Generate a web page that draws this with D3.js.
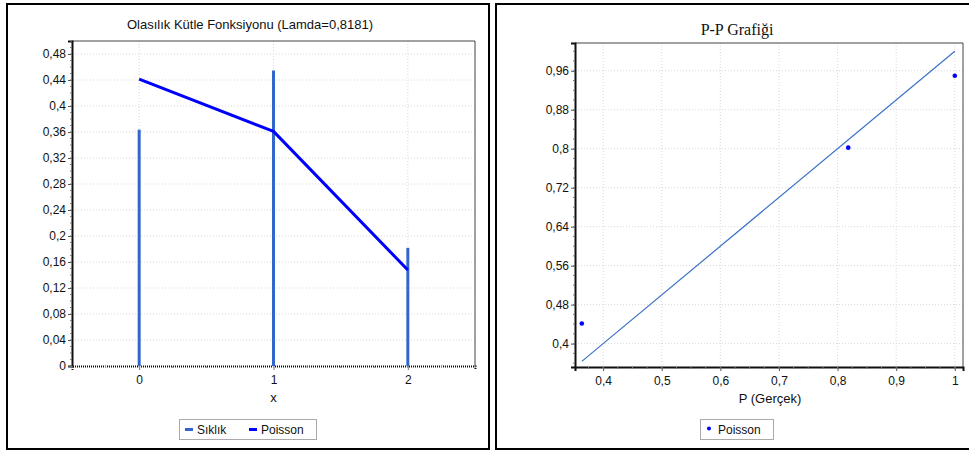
<!DOCTYPE html>
<html>
<head>
<meta charset="utf-8">
<script src="https://cdn.jsdelivr.net/npm/d3@7"></script>
<style>
  html, body { margin: 0; padding: 0; background: #fff; }
  svg { display: block; }
  text { font-family: "Liberation Sans", Arial, sans-serif; fill: #111; }
</style>
</head>
<body>
<svg id="chart" width="969" height="452"></svg>
<script>
// ---------- Data ----------
const xCategories = [0, 1, 2];
const siklikValues = [0.3636, 0.4545, 0.1818];
const poissonValues = [0.4412, 0.3610, 0.1477];
const leftYTicks = [0, 0.04, 0.08, 0.12, 0.16, 0.2, 0.24, 0.28, 0.32, 0.36, 0.4, 0.44, 0.48];
const leftTitle = "Olasılık Kütle Fonksiyonu (Lamda=0,8181)";

const ppActual = [0.3636, 0.8182, 1.0];
const ppPoisson = [0.4412, 0.8022, 0.9499];
const ppXTicks = [0.4, 0.5, 0.6, 0.7, 0.8, 0.9, 1];
const ppYTicks = [0.4, 0.48, 0.56, 0.64, 0.72, 0.8, 0.88, 0.96];
const rightTitle = "P-P Grafiği";

const fmt = d => String(+d.toFixed(3)).replace('.', ',');

const svg = d3.select("#chart");

// ---------- Panel frames ----------
svg.append("rect").attr("x", 7).attr("y", 4).attr("width", 482).attr("height", 445)
  .attr("fill", "none").attr("stroke", "#000").attr("stroke-width", 2);
svg.append("rect").attr("x", 496).attr("y", 4).attr("width", 480).attr("height", 445)
  .attr("fill", "none").attr("stroke", "#000").attr("stroke-width", 2);

function gridAndTicks(g, x, y, xMajor, yMajor, xMinor, yMinor, L, R, T, B, fmtX, fmtY) {
  // grid
  g.selectAll(".gx").data(xMajor).join("line")
    .attr("x1", d => x(d)).attr("x2", d => x(d)).attr("y1", T).attr("y2", B)
    .attr("stroke", "#d8d8d8").attr("stroke-dasharray", "1,2");
  g.selectAll(".gy").data(yMajor).join("line")
    .attr("x1", L).attr("x2", R).attr("y1", d => y(d)).attr("y2", d => y(d))
    .attr("stroke", "#d8d8d8").attr("stroke-dasharray", "1,2");
}

// ---------- Left chart ----------
{
  const L = 72, R = 475, T = 41, B = 366;
  const x = d3.scaleLinear().domain([-0.5, 2.5]).range([L, R]);
  const y = d3.scaleLinear().domain([0, 0.5]).range([B, T]);
  const g = svg.append("g");

  gridAndTicks(g.append("g"), x, y, xCategories, leftYTicks, null, null, L, R, T, B);

  // plot border (top/right)
  g.append("path").attr("d", `M${L},${T}H${R}V${B}`).attr("fill", "none")
    .attr("stroke", "#444").attr("stroke-width", 1);

  // y axis
  const yAxis = d3.axisLeft(y).tickValues(leftYTicks).tickFormat(fmt).tickSize(4).tickPadding(2);
  const ya = g.append("g").attr("transform", `translate(${L},0)`).call(yAxis);
  ya.select(".domain").attr("stroke", "#111").attr("stroke-width", 2);
  ya.selectAll(".tick line").attr("stroke", "#555");
  ya.selectAll("text").style("font-size", "12px").attr("fill", "#111");
  const yMinor = d3.range(0, 0.5001, 0.01);
  g.append("g").selectAll("line").data(yMinor).join("line")
    .attr("x1", L - 2).attr("x2", L).attr("y1", d => y(d)).attr("y2", d => y(d))
    .attr("stroke", "#777");

  // x axis
  const xAxis = d3.axisBottom(x).tickValues(xCategories).tickFormat(d => String(d)).tickSize(4).tickPadding(5);
  const xa = g.append("g").attr("transform", `translate(0,${B})`).call(xAxis);
  xa.select(".domain").attr("stroke", "#111").attr("stroke-width", 2).attr("stroke-dasharray", "1,1");
  xa.selectAll(".tick line").attr("stroke", "#777");
  xa.selectAll("text").style("font-size", "12px").attr("fill", "#111");
  const xMinor = d3.range(-0.5, 2.5001, 0.25);
  g.append("g").selectAll("line").data(xMinor).join("line")
    .attr("x1", d => x(d)).attr("x2", d => x(d)).attr("y1", B).attr("y2", B + 2)
    .attr("stroke", "#999");

  // Sıklık bars
  g.append("g").selectAll("line").data(xCategories).join("line")
    .attr("x1", d => x(d)).attr("x2", d => x(d))
    .attr("y1", y(0)).attr("y2", (d, i) => y(siklikValues[i]))
    .attr("stroke", "#3366cc").attr("stroke-width", 3);

  // Poisson line
  const line = d3.line().x((d, i) => x(xCategories[i])).y(d => y(d));
  g.append("path").datum(poissonValues).attr("d", line)
    .attr("fill", "none").attr("stroke", "#0000ff").attr("stroke-width", 3)
    .attr("stroke-linejoin", "round");

  // title & axis label
  g.append("text").attr("x", 250).attr("y", 29).attr("text-anchor", "middle")
    .style("font-size", "13px").text(leftTitle);
  g.append("text").attr("x", (L + R) / 2).attr("y", 402).attr("text-anchor", "middle")
    .style("font-size", "13px").text("x");

  // legend
  const lg = g.append("g");
  lg.append("rect").attr("x", 179.5).attr("y", 419.5).attr("width", 137).attr("height", 20)
    .attr("fill", "#fff").attr("stroke", "#aaa");
  lg.append("line").attr("x1", 185).attr("x2", 193).attr("y1", 429.5).attr("y2", 429.5)
    .attr("stroke", "#3366cc").attr("stroke-width", 3);
  lg.append("text").attr("x", 197).attr("y", 434).style("font-size", "12px").text("Sıklık");
  lg.append("line").attr("x1", 249).attr("x2", 257).attr("y1", 429.5).attr("y2", 429.5)
    .attr("stroke", "#0000ff").attr("stroke-width", 3);
  lg.append("text").attr("x", 261).attr("y", 434).style("font-size", "12px").text("Poisson");
}

// ---------- Right chart ----------
{
  const L = 575, R = 963, T = 43, B = 367;
  const x = d3.scaleLinear().domain([0.352, 1.014]).range([L, R]);
  const y = d3.scaleLinear().domain([0.352, 1.017]).range([B, T]);
  const g = svg.append("g");

  gridAndTicks(g.append("g"), x, y, ppXTicks, ppYTicks, null, null, L, R, T, B);

  g.append("path").attr("d", `M${L},${T}H${R}V${B}`).attr("fill", "none")
    .attr("stroke", "#444").attr("stroke-width", 1);

  const yAxis = d3.axisLeft(y).tickValues(ppYTicks).tickFormat(fmt).tickSize(4).tickPadding(2);
  const ya = g.append("g").attr("transform", `translate(${L},0)`).call(yAxis);
  ya.select(".domain").attr("stroke", "#111").attr("stroke-width", 2);
  ya.selectAll(".tick line").attr("stroke", "#555");
  ya.selectAll("text").style("font-size", "12px").attr("fill", "#111");
  const yMinor = d3.range(0.36, 1.0101, 0.02);
  g.append("g").selectAll("line").data(yMinor).join("line")
    .attr("x1", L - 2).attr("x2", L).attr("y1", d => y(d)).attr("y2", d => y(d))
    .attr("stroke", "#777");

  const xAxis = d3.axisBottom(x).tickValues(ppXTicks).tickFormat(fmt).tickSize(4).tickPadding(5);
  const xa = g.append("g").attr("transform", `translate(0,${B})`).call(xAxis);
  xa.select(".domain").attr("stroke", "#111").attr("stroke-width", 2);
  xa.selectAll(".tick line").attr("stroke", "#555");
  xa.selectAll("text").style("font-size", "12px").attr("fill", "#111");
  const xMinor = d3.range(0.375, 1.0101, 0.025);
  g.append("g").selectAll("line").data(xMinor).join("line")
    .attr("x1", d => x(d)).attr("x2", d => x(d)).attr("y1", B).attr("y2", B + 2)
    .attr("stroke", "#777");

  // reference line y = x
  const ref = [ppActual[0], ppActual[ppActual.length - 1]];
  g.append("line")
    .attr("x1", x(ref[0])).attr("y1", y(ref[0]))
    .attr("x2", x(ref[1])).attr("y2", y(ref[1]))
    .attr("stroke", "#3a6fc8").attr("stroke-width", 1.2);

  // points
  g.append("g").selectAll("circle").data(ppActual).join("circle")
    .attr("cx", d => x(d)).attr("cy", (d, i) => y(ppPoisson[i])).attr("r", 2.3)
    .attr("fill", "#0000ff");

  g.append("text").attr("x", 737).attr("y", 35).attr("text-anchor", "middle")
    .style("font-family", "'Liberation Serif', 'Times New Roman', serif")
    .style("font-size", "16px").text(rightTitle);
  g.append("text").attr("x", 770).attr("y", 403).attr("text-anchor", "middle")
    .style("font-size", "13px").text("P (Gerçek)");

  const lg = g.append("g");
  lg.append("rect").attr("x", 700.5).attr("y", 419.5).attr("width", 73).attr("height", 20)
    .attr("fill", "#fff").attr("stroke", "#aaa");
  lg.append("circle").attr("cx", 709).attr("cy", 428.5).attr("r", 2).attr("fill", "#0000ff");
  lg.append("text").attr("x", 718).attr("y", 434).style("font-size", "12px").text("Poisson");
}
</script>
</body>
</html>
